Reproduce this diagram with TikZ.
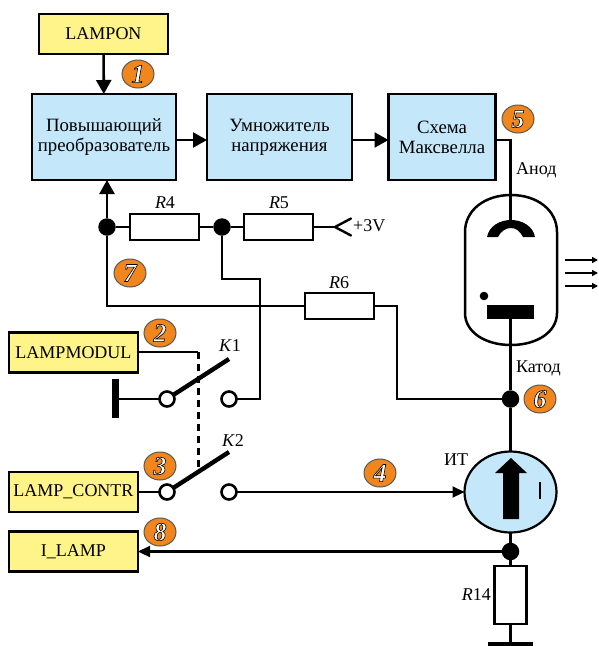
\documentclass[tikz,border=0pt]{standalone}
\usepackage{fontspec}
\setmainfont{Liberation Serif}
\usetikzlibrary{arrows.meta,shapes.geometric}
\definecolor{boxblue}{HTML}{C4E8FA}
\definecolor{boxyellow}{HTML}{FFF48A}
\definecolor{badgeorange}{HTML}{F0861C}
\newcommand{\outlined}[1]{\special{pdf:code 2 Tr 0.6 w 0 G}#1\special{pdf:code 0 Tr 0 w}}
\tikzset{
	wire/.style={line width=2.2pt},
	block/.style={draw,line width=2.6pt,fill=boxblue,align=center,outer sep=0pt,font=\fontsize{18.8}{20}\selectfont},
	signal/.style={draw,line width=2.2pt,fill=boxyellow,outer sep=0pt,font=\fontsize{18}{20}\selectfont},
	resistor/.style={draw,line width=2.2pt,fill=white,outer sep=0pt},
	contact/.style={circle,draw,line width=2.6pt,fill=white,minimum size=15pt,inner sep=0pt,outer sep=0pt},
	dot/.style={circle,fill=black,minimum size=17.5pt,inner sep=0pt},
	badge/.style={ellipse,draw=black!65,line width=1pt,fill=badgeorange,text=white,minimum width=32pt,minimum height=28pt,inner sep=0pt,font=\fontsize{26}{26}\selectfont\bfseries\itshape},
	smalltip/.style={-{Triangle[length=12pt,width=11pt]}},
	>={Triangle[length=14pt,width=15pt]}
}
\begin{document}
\begin{tikzpicture}[x=1pt,y=-1pt,font=\fontsize{18}{20}\selectfont]
	\useasboundingbox (0,0) rectangle (599,646);

	\begin{scope}[every node/.style={block,minimum height=86pt}]
	\node [minimum width=144pt] (boost) at (104,137) {Повышающий\\преобразователь};
	\node [minimum width=145pt] (mult) at (279.5,137) {Умножитель\\напряжения};
	\node [minimum width=107pt] (maxwell) at (442,137) {Схема\\Максвелла};
	\end{scope}

	\begin{scope}[every node/.style={signal,minimum height=40pt}]
	\node [minimum width=129pt] (lampon) at (103.5,34) {LAMPON};
	\node [minimum width=129pt] (lampmodul) at (73.5,352.5) {LAMPMODUL};
	\node [minimum width=129pt] (lampcontr) at (73.5,492) {LAMP\_CONTR};
	\node [minimum width=129pt] (ilamp) at (73.5,551.5) {I\_LAMP};
	\end{scope}

	\begin{scope}[every node/.style={resistor,minimum width=69pt,minimum height=26pt}]
	\node (r4) at (164.5,227) {};
	\node (r5) at (278.5,227) {};
	\node (r6) at (339.5,306) {};
	\end{scope}
	\node [resistor,minimum width=32pt,minimum height=58pt] (r14) at (510.5,595) {};

	\begin{scope}[every node/.style={dot}]
	\node (fb) at (107,227) {};
	\node (mid) at (222,227) {};
	\node (kat) at (510.5,399) {};
	\node (sense) at (510.5,551.5) {};
	\end{scope}

	\begin{scope}[every node/.style={contact}]
	\node (k1a) at (167,399) {};
	\node (k1b) at (229,399) {};
	\node (k2a) at (167,492) {};
	\node (k2b) at (229,492) {};
	\end{scope}

	% bends and free ends
	\coordinate (plus) at (335,227);
	\coordinate (turn1) at (260,279);
	\coordinate (turn2) at (397,399);
	\coordinate (anode) at (510.5,222);
	\coordinate (cath) at (510.5,318);
	\coordinate (gnd1) at (115,399);
	\coordinate (gnd2) at (510.5,644);
	\coordinate (arm1) at (229,359);
	\coordinate (arm2) at (229,452);
	\coordinate (cross2) at (198,472);
	\coordinate (modul) at (198,352);

	% tube
	\draw [line width=2.5pt] (465,232) .. controls (465,210) and (485,195) .. (511,195)
		.. controls (537,195) and (557,210) .. (557,232) -- (557,313)
		.. controls (557,332) and (537,345) .. (511,345)
		.. controls (485,345) and (465,332) .. (465,313) -- cycle;
	\fill (487,237) .. controls (489,226) and (500,220) .. (511,220)
		.. controls (522,220) and (533,226) .. (535,237) -- (523,237)
		.. controls (520,231) and (516,228) .. (511,228)
		.. controls (506,228) and (501,231) .. (498,237) -- cycle;
	\fill (487,305) rectangle (534,319);
	\fill (484,296) circle [radius=4.3];

	\foreach \n/\ypos in {a/260,b/273,c/286} {
		\coordinate (ray\n-1) at (565,\ypos);
		\coordinate (ray\n-2) at (598,\ypos);
		\draw [line width=1.8pt,-{Triangle[length=6pt,width=6pt]}] (ray\n-1) -- (ray\n-2);
	}

	% current source
	\node [ellipse,draw,line width=2.2pt,fill=boxblue,minimum width=92pt,minimum height=81pt,inner sep=0pt,outer sep=0pt] (it) at (510.5,492) {};
	\fill (503,519) -- (503,473) -- (495,473) -- (511,458) -- (527,473) -- (519,473) -- (519,519) -- cycle;
	\draw [line width=2.6pt] (540,482) -- (540,499);

	% wires
	\path [line width=2.6pt,->] (lampon) edge (boost);
	\path [wire,->] ([yshift=-3pt]boost.east) edge ([yshift=-3pt]mult.west);
	\path [wire,->] ([yshift=-3pt]mult.east) edge ([yshift=-3pt]maxwell.west);
	\path [line width=2.6pt,->] (fb) edge (fb |- boost.south);

	\draw [wire] ([yshift=-3pt]maxwell.east) -| (anode);
	\draw [wire] (fb) -- (r4);
	\draw [wire] (r4) -- (mid);
	\draw [wire] (mid) -- (r5);
	\draw [wire] (r5) -- (plus);
	\draw [line width=2.4pt,line cap=round] (351,218.5) -- (plus) -- (351,235.5);
	\draw [wire] (fb) |- (r6);
	\draw [wire] (r6) -| (turn2) -- (kat);
	\draw [wire] (mid) |- (turn1) |- (k1b);
	\draw [wire] (cath) -- (kat);
	\draw [wire] (kat) -- (it);
	\draw [wire] (it) -- (sense);
	\draw [wire] (sense) -- (r14);
	\draw [wire] (r14) -- (gnd2);
	\draw [wire,smalltip] (sense) -- (ilamp);

	\draw [wire] (gnd1) -- (k1a);
	\draw [wire] (lampcontr) -- (k2a);
	\draw [wire,smalltip] (k2b) -- (it);
	\draw [line width=1.8pt] (lampmodul.east |- modul) -- (modul);
	\draw [line width=3pt,dash pattern=on 7pt off 5pt] (modul) -- (cross2);
	\draw [line width=7pt] (115,379) -- (115,418);
	\draw [line width=5pt] (488,644) -- (533,644);

	\draw [line width=4.4pt] (k1a) -- (arm1);
	\draw [line width=4.4pt] (k2a) -- (arm2);

	% labels
	\node (lr4) at (165,203) {\textit{R}4};
	\node (lr5) at (279,203) {\textit{R}5};
	\node (lr6) at (339,283) {\textit{R}6};
	\node [anchor=east,inner sep=0pt] (lr14) at (491,595) {\textit{R}14};
	\node (lk1) at (230,346) {\textit{K}1};
	\node (lk2) at (233,441) {\textit{K}2};
	\node [anchor=west,inner sep=0pt] (lv) at (353,226) {+3V};
	\node [anchor=west,inner sep=0pt] (lanod) at (516,170) {Анод};
	\node [anchor=west,inner sep=0pt] (lkatod) at (516,368) {Катод};
	\node [anchor=west,inner sep=0pt] (lit) at (444,460) {ИТ};

	\foreach \n/\xpos/\ypos in {1/138/74, 2/160/333, 3/160/466, 4/380/473, 5/518/119, 6/540/399, 7/130/273, 8/160/532} {
		\node [badge] (mark\n) at (\xpos,\ypos) {\outlined{\n}};
	}
\end{tikzpicture}
\end{document}
